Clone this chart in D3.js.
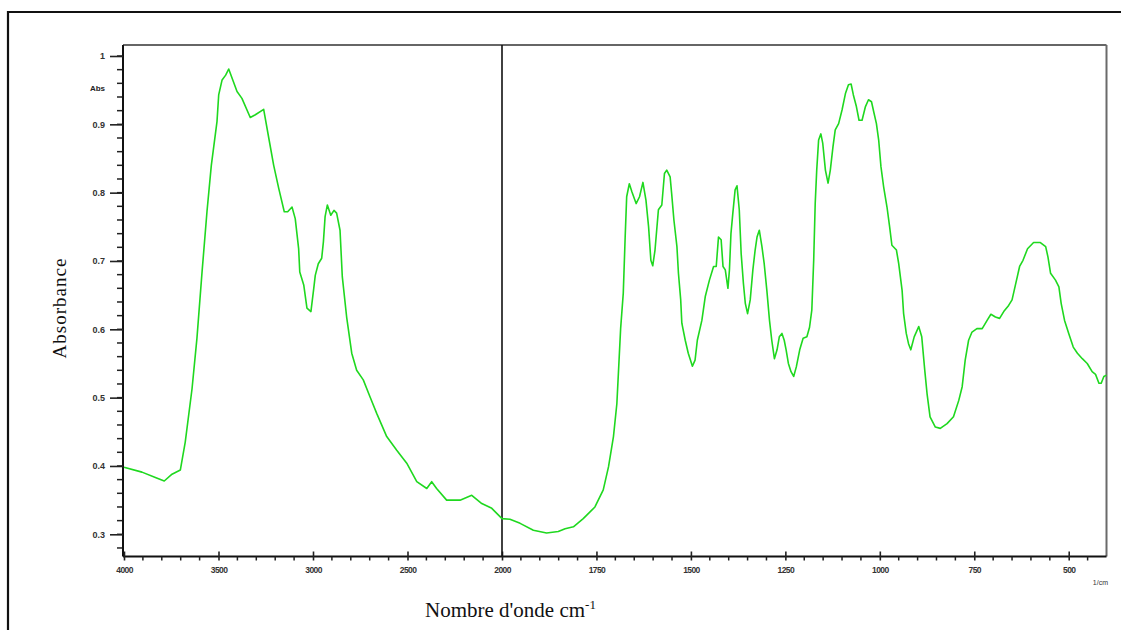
<!DOCTYPE html>
<html>
<head>
<meta charset="utf-8">
<script src="https://cdn.jsdelivr.net/npm/d3@7"></script>
<style>
  html, body { margin: 0; padding: 0; background: #fff; }
  svg { display: block; }
</style>
</head>
<body>
<svg id="chart" width="1121" height="630"></svg>
<script>
// IR spectrum: wavenumber (cm-1) and absorbance
const wavenumbers = [
  4000, 3905, 3834, 3787, 3746, 3702, 3676, 3640, 3614, 3587, 3561, 3538, 3508, 3499, 3481, 3462, 3446,
  3402, 3376, 3332, 3305, 3261, 3234, 3208, 3181, 3152, 3134, 3111, 3094, 3076, 3070, 3049, 3032, 3011,
  2996, 2988, 2972, 2954, 2945, 2936, 2924, 2906, 2889, 2875, 2857, 2845, 2822, 2795, 2769, 2734, 2698,
  2663, 2610, 2557, 2504, 2451, 2398, 2372, 2346, 2293, 2222, 2160, 2107, 2054, 2000,
  1979, 1952, 1917, 1882, 1851, 1833, 1811, 1785, 1754, 1732, 1718, 1705, 1696, 1692, 1686, 1679, 1674,
  1670, 1663, 1656, 1645, 1636, 1627, 1619, 1612, 1606, 1601, 1595, 1586, 1577, 1570, 1564, 1555, 1551,
  1545, 1537, 1533, 1527, 1524, 1515, 1507, 1496, 1489, 1483, 1471, 1462, 1451, 1440, 1433, 1427, 1420,
  1415, 1409, 1402, 1398, 1394, 1389, 1383, 1378, 1372, 1367, 1361, 1356, 1350, 1343, 1336, 1330, 1325,
  1319, 1312, 1306, 1299, 1292, 1286, 1279, 1272, 1266, 1259, 1253, 1248, 1242, 1235, 1228, 1221, 1212,
  1203, 1193, 1186, 1180, 1175, 1171, 1167, 1162, 1156, 1151, 1144, 1137, 1131, 1124, 1118, 1109, 1100,
  1091, 1083, 1076, 1070, 1062, 1055, 1047, 1038, 1030, 1022, 1016, 1009, 1003, 997, 990, 981, 974, 968,
  956, 950, 941, 937, 930, 924, 918, 909, 897, 889, 881, 875, 867, 853, 840, 822, 805, 791, 782, 774,
  765, 756, 743, 729, 716, 706, 694, 683, 672, 659, 650, 641, 630, 621, 609, 593, 575, 561, 555, 548,
  535, 526, 520, 511, 500, 488, 477, 464, 451, 438, 429, 420, 414, 407, 400
];
const absorbance = [
  0.398, 0.391, 0.383, 0.378, 0.388, 0.394, 0.435, 0.513, 0.587, 0.684, 0.772, 0.840, 0.904, 0.943, 0.965, 0.972, 0.981,
  0.948, 0.938, 0.910, 0.914, 0.922, 0.880, 0.840, 0.806, 0.772, 0.772, 0.779, 0.762, 0.718, 0.684, 0.665, 0.631, 0.626,
  0.660, 0.679, 0.696, 0.704, 0.728, 0.765, 0.782, 0.767, 0.774, 0.770, 0.745, 0.677, 0.618, 0.565, 0.540, 0.526, 0.501,
  0.477, 0.443, 0.423, 0.404, 0.377, 0.367, 0.377, 0.367, 0.350, 0.350, 0.357, 0.345, 0.338, 0.323,
  0.322, 0.316, 0.306, 0.302, 0.304, 0.308, 0.311, 0.323, 0.340, 0.365, 0.399, 0.443, 0.491, 0.535, 0.601, 0.653, 0.735,
  0.794, 0.813, 0.801, 0.784, 0.794, 0.815, 0.789, 0.750, 0.701, 0.693, 0.716, 0.775, 0.782, 0.828, 0.833, 0.823, 0.799,
  0.760, 0.721, 0.682, 0.643, 0.609, 0.584, 0.565, 0.546, 0.555, 0.584, 0.613, 0.648, 0.672, 0.692, 0.692, 0.735, 0.731,
  0.692, 0.687, 0.660, 0.687, 0.740, 0.770, 0.804, 0.810, 0.775, 0.711, 0.667, 0.638, 0.623, 0.643, 0.687, 0.716, 0.735,
  0.745, 0.721, 0.696, 0.657, 0.613, 0.584, 0.557, 0.570, 0.589, 0.594, 0.584, 0.570, 0.550, 0.538, 0.531, 0.545, 0.570,
  0.587, 0.589, 0.603, 0.628, 0.701, 0.784, 0.833, 0.877, 0.886, 0.872, 0.833, 0.814, 0.833, 0.867, 0.892, 0.901, 0.921,
  0.945, 0.958, 0.959, 0.943, 0.926, 0.906, 0.906, 0.926, 0.936, 0.933, 0.918, 0.901, 0.877, 0.838, 0.809, 0.779, 0.750, 0.723,
  0.716, 0.696, 0.657, 0.623, 0.594, 0.579, 0.570, 0.589, 0.604, 0.589, 0.540, 0.506, 0.472, 0.457, 0.455, 0.462, 0.472, 0.496, 0.516, 0.555,
  0.584, 0.596, 0.601, 0.601, 0.613, 0.622, 0.618, 0.616, 0.626, 0.635, 0.643, 0.665, 0.692, 0.701, 0.718, 0.727, 0.727, 0.721, 0.706, 0.682,
  0.672, 0.662, 0.638, 0.613, 0.594, 0.574, 0.565, 0.557, 0.550, 0.538, 0.534, 0.521, 0.521, 0.531, 0.533
];

// axis ticks
const yMajorTicks = [0.3, 0.4, 0.5, 0.6, 0.7, 0.8, 0.9, 1];
const yTickLabels = ["0.3", "0.4", "0.5", "0.6", "0.7", "0.8", "0.9", "1"];
const xMajorLeft = [4000, 3500, 3000, 2500, 2000];
const xMajorRight = [1750, 1500, 1250, 1000, 750, 500];

const svg = d3.select("#chart");

// plot box
const boxLeft = 123, boxRight = 1106.5, boxTop = 45, boxBottom = 556.5, splitX = 502;

// split wavenumber axis: 4000-2000 compressed on the left, 2000-400 on the right
const xLeft = d3.scaleLinear().domain([4000, 2000]).range([124, splitX]);
const xRight = d3.scaleLinear().domain([2000, 400]).range([splitX, boxRight]);
const xPos = wn => (wn >= 2000 ? xLeft(wn) : xRight(wn));
const y = d3.scaleLinear().domain([0.3, 1.0]).range([534.3, 56]);

// outer page frame
svg.append("path")
  .attr("d", "M8,630 L8,12 L1121,12")
  .attr("fill", "none").attr("stroke", "#111").attr("stroke-width", 2.2);

// plot frame (top and right)
svg.append("line").attr("x1", boxLeft).attr("x2", boxRight).attr("y1", boxTop).attr("y2", boxTop)
  .attr("stroke", "#333").attr("stroke-width", 1.6);
svg.append("line").attr("x1", boxRight).attr("x2", boxRight).attr("y1", boxTop).attr("y2", boxBottom)
  .attr("stroke", "#6a6a6a").attr("stroke-width", 2);

// Y axis
const yMinor = d3.range(0.28, 1.011, 0.02).map(v => +v.toFixed(2));
const yAxisG = svg.append("g").attr("transform", `translate(${boxLeft},0)`);
yAxisG.selectAll("line.minor").data(yMinor).join("line")
  .attr("class", "minor")
  .attr("x1", -6).attr("x2", 0)
  .attr("y1", d => y(d)).attr("y2", d => y(d))
  .attr("stroke", "#222").attr("stroke-width", 1.5);
const yAxis = d3.axisLeft(y).tickValues(yMajorTicks).tickSize(13).tickPadding(5)
  .tickFormat((d, i) => yTickLabels[i]);
yAxisG.call(yAxis);
yAxisG.select(".domain").attr("d", `M0,${boxTop}V${boxBottom}`).attr("stroke", "#111").attr("stroke-width", 2);
yAxisG.selectAll(".tick line").attr("stroke", "#222").attr("stroke-width", 1.6);
yAxisG.selectAll(".tick text")
  .attr("font-family", "Arial, 'Liberation Sans', sans-serif")
  .attr("font-size", 9).attr("font-weight", "bold").attr("fill", "#333");
yAxisG.append("text")
  .attr("x", -18).attr("y", 88).attr("dy", "0.32em")
  .attr("text-anchor", "end")
  .attr("font-family", "Arial, 'Liberation Sans', sans-serif")
  .attr("font-size", 8).attr("font-weight", "bold").attr("fill", "#222")
  .text("Abs");

// X axis (two segments sharing the 2000 boundary)
const xAxisG = svg.append("g").attr("transform", `translate(0,${boxBottom})`);
xAxisG.append("line").attr("x1", boxLeft).attr("x2", boxRight).attr("y1", 0).attr("y2", 0)
  .attr("stroke", "#111").attr("stroke-width", 2);
const minorLeft = d3.range(3900, 2000, -100).filter(d => d % 500 !== 0);
const minorRight = d3.range(1950, 400, -50).filter(d => d % 250 !== 0);
const minorX = minorLeft.map(xLeft).concat(minorRight.map(xRight));
xAxisG.selectAll("line.minor").data(minorX).join("line")
  .attr("class", "minor")
  .attr("x1", d => d).attr("x2", d => d).attr("y1", 0).attr("y2", 4)
  .attr("stroke", "#222").attr("stroke-width", 1.5);

const fmt = d3.format("d");
const axL = d3.axisBottom(xLeft).tickValues(xMajorLeft).tickSize(4).tickPadding(6).tickFormat(fmt);
const axR = d3.axisBottom(xRight).tickValues(xMajorRight).tickSize(4).tickPadding(6).tickFormat(fmt);
const gL = xAxisG.append("g").call(axL);
const gR = xAxisG.append("g").call(axR);
[gL, gR].forEach(g => {
  g.select(".domain").remove();
  g.selectAll(".tick line").attr("y1", -5).attr("stroke", "#222").attr("stroke-width", 1.6);
  g.selectAll(".tick text")
    .attr("font-family", "Arial, 'Liberation Sans', sans-serif")
    .attr("font-size", 8.5).attr("font-weight", "bold").attr("letter-spacing", "-0.6")
    .attr("fill", "#333");
});
xAxisG.append("text")
  .attr("x", 1108).attr("y", 28)
  .attr("text-anchor", "end")
  .attr("font-family", "Arial, 'Liberation Sans', sans-serif")
  .attr("font-size", 7).attr("fill", "#333")
  .text("1/cm");

// split marker at 2000 cm-1
svg.append("line").attr("x1", splitX).attr("x2", splitX).attr("y1", boxTop).attr("y2", boxBottom)
  .attr("stroke", "#111").attr("stroke-width", 1.6);

// spectrum
const points = wavenumbers.map((w, i) => [w, absorbance[i]]);
const line = d3.line().x(d => xPos(d[0])).y(d => y(d[1])).curve(d3.curveLinear);
svg.append("path")
  .datum(points)
  .attr("d", line)
  .attr("fill", "none")
  .attr("stroke", "#1fd81f")
  .attr("stroke-width", 1.6)
  .attr("stroke-linejoin", "round");

// axis titles
svg.append("text")
  .attr("transform", "translate(66,308) rotate(-90)")
  .attr("text-anchor", "middle")
  .attr("font-family", "'Liberation Serif', 'Times New Roman', serif")
  .attr("font-size", 19).attr("letter-spacing", "1").attr("fill", "#111")
  .text("Absorbance");

const xt = svg.append("text")
  .attr("x", 425).attr("y", 617)
  .attr("font-family", "'Liberation Serif', 'Times New Roman', serif")
  .attr("font-size", 21).attr("fill", "#111");
xt.append("tspan").text("Nombre d'onde cm");
xt.append("tspan").attr("dy", -8).attr("font-size", 13).text("-1");
</script>
</body>
</html>
